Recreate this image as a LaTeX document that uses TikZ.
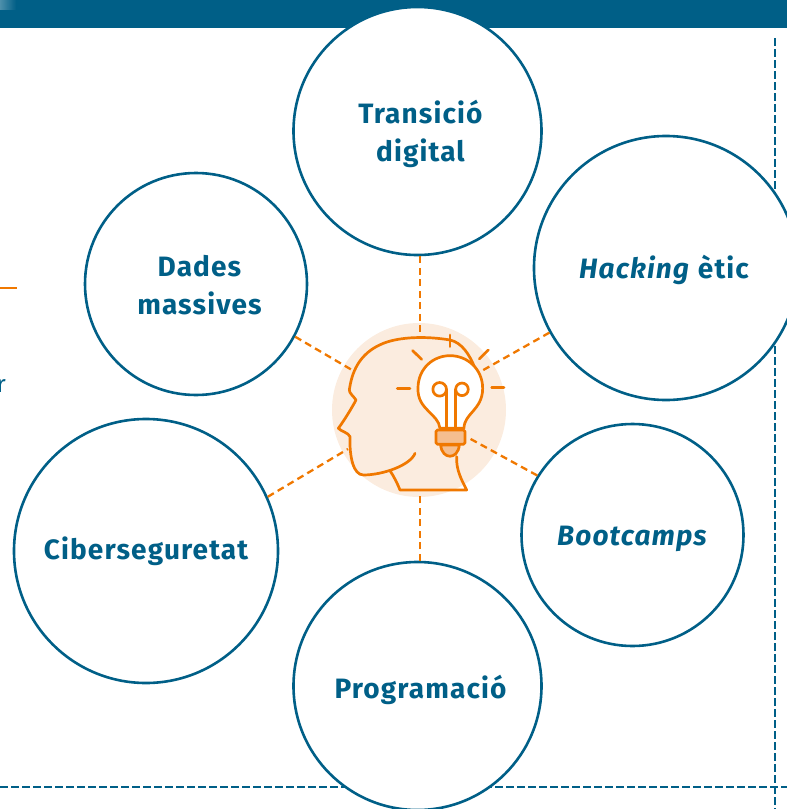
\documentclass[tikz,border=0pt]{standalone}
\usepackage{fontspec}
\setmainfont{Fira Sans}[LetterSpace=4.0]
\usetikzlibrary{fadings}
\definecolor{teal}{HTML}{005F87}
\definecolor{orng}{HTML}{F07800}
\definecolor{glow}{HTML}{FBECDF}
\definecolor{basec}{HTML}{F5BE8F}
\tikzset{
  topic/.style={circle,draw=teal,line width=2.6pt,fill=white,inner sep=0pt},
  topictext/.style={inner sep=0pt,align=center,text=teal,font=\fontsize{28}{38}\selectfont\bfseries},
  link/.style={draw=orng,line width=2.3pt,dash pattern=on 7pt off 4.5pt},
  frameline/.style={draw=teal,line width=2.3pt,dash pattern=on 7.5pt off 3.5pt},
  icon/.style={draw=orng,line width=2.7pt,line cap=round,line join=round}
}
\begin{document}
\begin{tikzpicture}[x=1pt,y=-1pt]
\useasboundingbox (0,0) rectangle (787,809);
\clip (0,0) rectangle (787,809);
\fill[teal] (0,0) rectangle (787,28);
\fill[white,opacity=.3,path fading=east] (0,0) rectangle (16,10);
\draw[frameline] (775,38) -- (775,809);
\draw[frameline] (0,787) -- (787,787);
\draw[orng,line width=2.6pt] (0,288) -- (17,288);
\node[anchor=east,inner sep=0pt,text=teal,font=\fontsize{24}{28}\selectfont] (frag) at (6,386) {r};
\node[circle,fill=glow,minimum size=174pt,inner sep=0pt] (hub) at (419,410) {};
% connector ends
\coordinate (hubT) at (420,335);
\coordinate (hubB) at (420,493);
\coordinate (hubH) at (478,373);
\coordinate (hubC) at (467,437);
\coordinate (hubS) at (348,449);
\coordinate (hubD) at (352,370);
% topics
\node[topic,minimum size=248pt] (trans) at (417.5,131) {};
\node[topic,minimum size=264pt] (hack) at (666,268) {};
\node[topic,minimum size=222pt] (dades) at (196,284) {};
\node[topic,minimum size=264pt] (ciber) at (146,551) {};
\node[topic,minimum size=248pt] (prog) at (417.5,686) {};
\node[topic,minimum size=222pt] (boot) at (632.5,535) {};
\node[topictext] (transT) at (420.5,134) {Transició\\digital};
\node[topictext] (hackT) at (664,269.5) {\textit{Hacking} ètic};
\node[topictext] (dadesT) at (199.5,285) {Dades\\massives};
\node[topictext] (ciberT) at (146,551) {Ciberseguretat};
\node[topictext] (progT) at (420.5,690) {Programació};
\node[topictext] (bootT) at (632.5,538.5) {\textit{Bootcamps}};
% connectors
\draw[link] (trans.south -| hubT) -- (hubT);
\draw[link] (prog.north -| hubB) -- (hubB);
\draw[link] (hack.209) -- (hubH);
\draw[link] (boot.148.3) -- (hubC);
\draw[link] (ciber.24.7) -- (hubS);
\draw[link] (dades.-28) -- (hubD);
% icon
\begin{scope}[shift={(320,310)},x=0.3333pt,y=-0.3333pt]
\draw[icon] (285,430) .. controls (272,465) and (190,495) .. (130,495)
  .. controls (100,495) and (88,440) .. (90,380)
  .. controls (85,368) and (65,365) .. (55,355)
  .. controls (70,335) and (95,295) .. (108,270)
  .. controls (100,258) and (88,250) .. (88,240)
  .. controls (95,190) and (115,130) .. (190,100)
  .. controls (240,80) and (320,78) .. (390,90)
  .. controls (425,97) and (450,135) .. (465,175);
\draw[icon] (210,482) .. controls (222,500) and (232,520) .. (240,540) -- (440,540)
  .. controls (425,510) and (408,480) .. (410,440);
\draw[icon,fill=white] (360,355) .. controls (355,310) and (292,300) .. (294,235)
  .. controls (294,175) and (340,137) .. (390,137)
  .. controls (445,137) and (488,180) .. (488,235)
  .. controls (488,300) and (432,310) .. (432,355) -- cycle;
\draw[icon] (380,355) -- (380,238);
\draw[icon] (407,355) -- (407,238);
\draw[icon] (359,238) circle[radius=6.8pt];
\draw[icon] (426,238) circle[radius=6.3pt];
\draw[icon,fill=basec] (362,405) .. controls (366,450) and (414,450) .. (418,405) -- cycle;
\draw[icon,fill=basec,rounded corners=1.5pt] (348,360) rectangle (435,403);
\foreach \a/\b/\c/\d in {232/235/270/235,278/122/305/148,390/75/390/110,478/147/505/120,515/232/552/232}
  \draw[icon] (\a,\b) -- (\c,\d);
\end{scope}
\end{tikzpicture}
\end{document}
